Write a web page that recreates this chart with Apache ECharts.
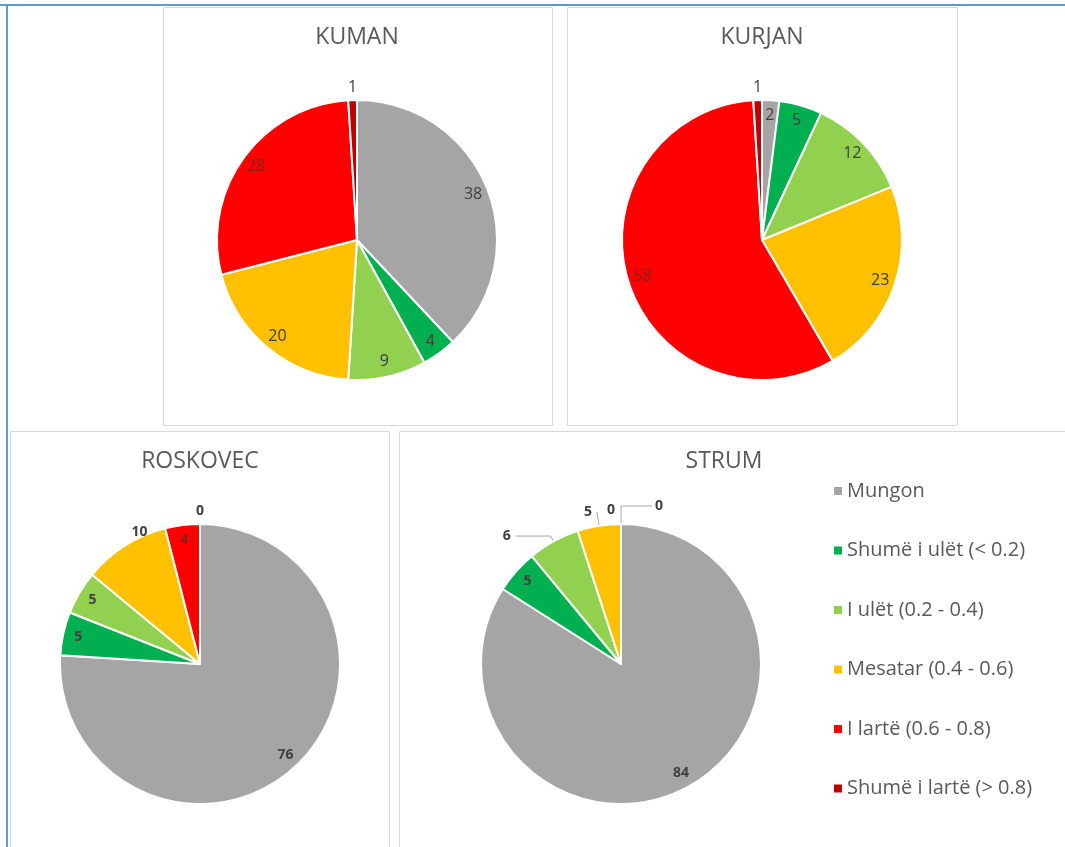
<!DOCTYPE html>
<html>
<head>
<meta charset="utf-8">
<script src="https://cdn.jsdelivr.net/npm/echarts@6/dist/echarts.min.js"></script>
<style>
  html, body { margin: 0; padding: 0; background: #ffffff; }
  #chart { width: 1065px; height: 847px; }
</style>
</head>
<body>
<div id="chart"></div>
<script>
// Index classes (share of area, %) for four municipal units
const categories = [
  'Mungon',
  'Shumë i ulët (< 0.2)',
  'I ulët (0.2 - 0.4)',
  'Mesatar (0.4 - 0.6)',
  'I lartë (0.6 - 0.8)',
  'Shumë i lartë (> 0.8)'
];
const kuman    = [38, 4, 9, 20, 28, 1];
const kurjan   = [2, 5, 12, 23, 58, 1];
const roskovec = [76, 5, 5, 10, 4, 0];
const strum    = [84, 5, 6, 5, 0, 0];

const colors      = ['#a5a5a5', '#00b050', '#92d050', '#ffc000', '#ff0000', '#c00000'];
const labelColors = ['#404040', '#404040', '#404040', '#404040', '#8c1c1c', '#404040'];

const FONT = "'Open Sans', 'Liberation Sans', sans-serif";
const R = 140;

// Per-panel layout; "outside" lists slices whose value sits outside the pie
const panels = [
  { title: 'KUMAN', values: kuman, center: [357, 240], titleX: 357, titleTop: 26, bold: false,
    outside: { 5: { length: 13, length2: 0, distance: -5 } } },
  { title: 'KURJAN', values: kurjan, center: [762, 240], titleX: 762, titleTop: 26, bold: false,
    outside: { 5: { length: 13, length2: 0, distance: -5 } } },
  { title: 'ROSKOVEC', values: roskovec, center: [200, 664], titleX: 200, titleTop: 450, bold: true,
    outside: {
      3: { length: 16, length2: -36, distance: 5 },
      5: { length: 13, length2: 0, distance: -4 }
    } },
  { title: 'STRUM', values: strum, center: [621, 664], titleX: 724, titleTop: 450, bold: true,
    outside: {
      2: { length: 6, length2: 35, distance: 5, line: true },
      3: { length: 14, length2: 0, distance: 5, line: true },
      4: { length: 14, length2: 6, distance: 0 },
      5: { length: 18, length2: -31, distance: -11, line: true }
    } }
];

function buildSeries(p) {
  const pie = {
    type: 'pie',
    name: p.title,
    center: p.center,
    radius: [0, R],
    startAngle: 90,
    clockwise: true,
    silent: true,
    avoidLabelOverlap: false,
    label: { show: false },
    labelLine: { show: false },
    itemStyle: { borderColor: '#ffffff', borderWidth: 2 },
    data: categories.map((c, i) => ({
      name: c, value: p.values[i], itemStyle: { color: colors[i] }
    }))
  };
  // Transparent ring that carries the value labels near the rim
  const ring = {
    type: 'pie',
    name: p.title + ' labels',
    center: p.center,
    radius: [R * 0.74, R],
    startAngle: 90,
    clockwise: true,
    silent: true,
    avoidLabelOverlap: false,
    itemStyle: { color: 'rgba(0,0,0,0)', borderWidth: 0 },
    label: {
      show: true,
      position: 'inside',
      formatter: '{c}',
      fontFamily: FONT,
      fontSize: p.bold ? 14 : 16,
      fontWeight: p.bold ? 'bold' : 'normal'
    },
    labelLine: { show: false },
    data: categories.map((c, i) => {
      const item = { name: c, value: p.values[i], label: { color: labelColors[i] } };
      const o = p.outside[i];
      if (o) {
        item.label = { position: 'outside', color: '#404040', distanceToLabelLine: o.distance };
        item.labelLine = {
          show: !!o.line, length: o.length, length2: o.length2, smooth: false,
          lineStyle: { color: '#a6a6a6', width: 1 }
        };
      }
      return item;
    })
  };
  return [pie, ring];
}

const chart = echarts.init(document.getElementById('chart'), null, { renderer: 'canvas' });

chart.setOption({
  backgroundColor: '#ffffff',
  animation: false,
  title: panels.map(p => ({
    text: p.title,
    left: p.titleX,
    top: p.titleTop,
    textAlign: 'center',
    padding: 0,
    textStyle: { fontFamily: FONT, fontSize: 23, fontWeight: 'normal', color: '#595959' }
  })),
  legend: {
    data: categories,
    orient: 'vertical',
    left: 829,
    top: 476,
    icon: 'rect',
    itemWidth: 8,
    itemHeight: 8,
    itemGap: 39.5,
    selectedMode: false,
    itemStyle: { borderWidth: 0 },
    textStyle: { fontFamily: FONT, fontSize: 20, color: '#595959' }
  },
  graphic: [
    { type: 'rect', silent: true, z: -10, shape: { x: 163.5, y: 7.5, width: 389, height: 418 },
      style: { fill: 'none', stroke: '#d9d9d9', lineWidth: 1 } },
    { type: 'rect', silent: true, z: -10, shape: { x: 567.5, y: 7.5, width: 390, height: 418 },
      style: { fill: 'none', stroke: '#d9d9d9', lineWidth: 1 } },
    { type: 'rect', silent: true, z: -10, shape: { x: 10.5, y: 431.5, width: 379, height: 430 },
      style: { fill: 'none', stroke: '#d9d9d9', lineWidth: 1 } },
    { type: 'rect', silent: true, z: -10, shape: { x: 399.5, y: 431.5, width: 700, height: 430 },
      style: { fill: 'none', stroke: '#d9d9d9', lineWidth: 1 } },
    { type: 'line', silent: true, shape: { x1: 0, y1: 5, x2: 1065, y2: 5 },
      style: { stroke: '#5b9bd5', lineWidth: 2 } },
    { type: 'line', silent: true, shape: { x1: 7, y1: 5, x2: 7, y2: 847 },
      style: { stroke: '#5b9bd5', lineWidth: 2 } }
  ],
  series: panels.flatMap(buildSeries)
});
</script>
</body>
</html>
